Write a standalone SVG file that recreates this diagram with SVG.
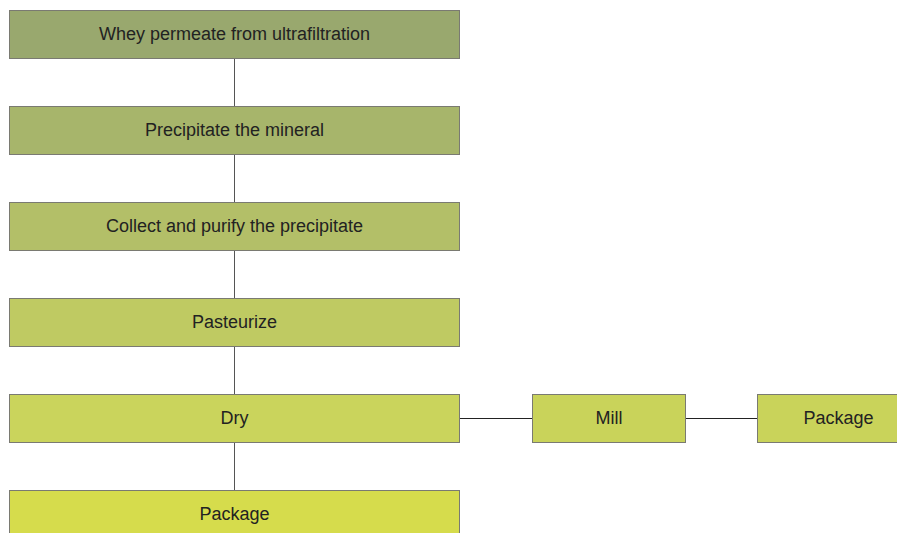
<svg xmlns="http://www.w3.org/2000/svg" width="897" height="533" viewBox="0 0 897 533">
<style>
.box{stroke:#7a7a72;stroke-width:1}
.lbl{font-family:"Liberation Sans",Arial,sans-serif;font-size:18px;fill:#222;text-anchor:middle;dominant-baseline:central}
.cv{stroke:#555;stroke-width:1;fill:none}
.ch{stroke:#222;stroke-width:1;fill:none}
</style>
<rect width="897" height="533" fill="#fff"/>
<g id="connectors">
<line class="cv" x1="234.5" y1="58" x2="234.5" y2="106"/>
<line class="cv" x1="234.5" y1="154" x2="234.5" y2="202"/>
<line class="cv" x1="234.5" y1="250" x2="234.5" y2="298"/>
<line class="cv" x1="234.5" y1="346" x2="234.5" y2="394"/>
<line class="cv" x1="234.5" y1="442" x2="234.5" y2="490"/>
<line class="ch" x1="460" y1="418.5" x2="532" y2="418.5"/>
<line class="ch" x1="685" y1="418.5" x2="757" y2="418.5"/>
</g>
<g id="n1"><rect class="box" x="9.5" y="10.5" width="450" height="48" fill="#99a86e"/><text class="lbl" x="234.5" y="34">Whey permeate from ultrafiltration</text></g>
<g id="n2"><rect class="box" x="9.5" y="106.5" width="450" height="48" fill="#a7b56b"/><text class="lbl" x="234.5" y="130">Precipitate the mineral</text></g>
<g id="n3"><rect class="box" x="9.5" y="202.5" width="450" height="48" fill="#b3bf68"/><text class="lbl" x="234.5" y="226">Collect and purify the precipitate</text></g>
<g id="n4"><rect class="box" x="9.5" y="298.5" width="450" height="48" fill="#bfca62"/><text class="lbl" x="234.5" y="322">Pasteurize</text></g>
<g id="n5"><rect class="box" x="9.5" y="394.5" width="450" height="48" fill="#cad45c"/><text class="lbl" x="234.5" y="418">Dry</text></g>
<g id="n6"><rect class="box" x="9.5" y="490.5" width="450" height="48" fill="#d6dc4c"/><text class="lbl" x="234.5" y="514">Package</text></g>
<g id="n7"><rect class="box" x="532.5" y="394.5" width="153" height="48" fill="#c9d35a"/><text class="lbl" x="609" y="418">Mill</text></g>
<g id="n8"><rect class="box" x="757.5" y="394.5" width="160" height="48" fill="#c9d35a"/><text class="lbl" x="838.5" y="418">Package</text></g>
</svg>
